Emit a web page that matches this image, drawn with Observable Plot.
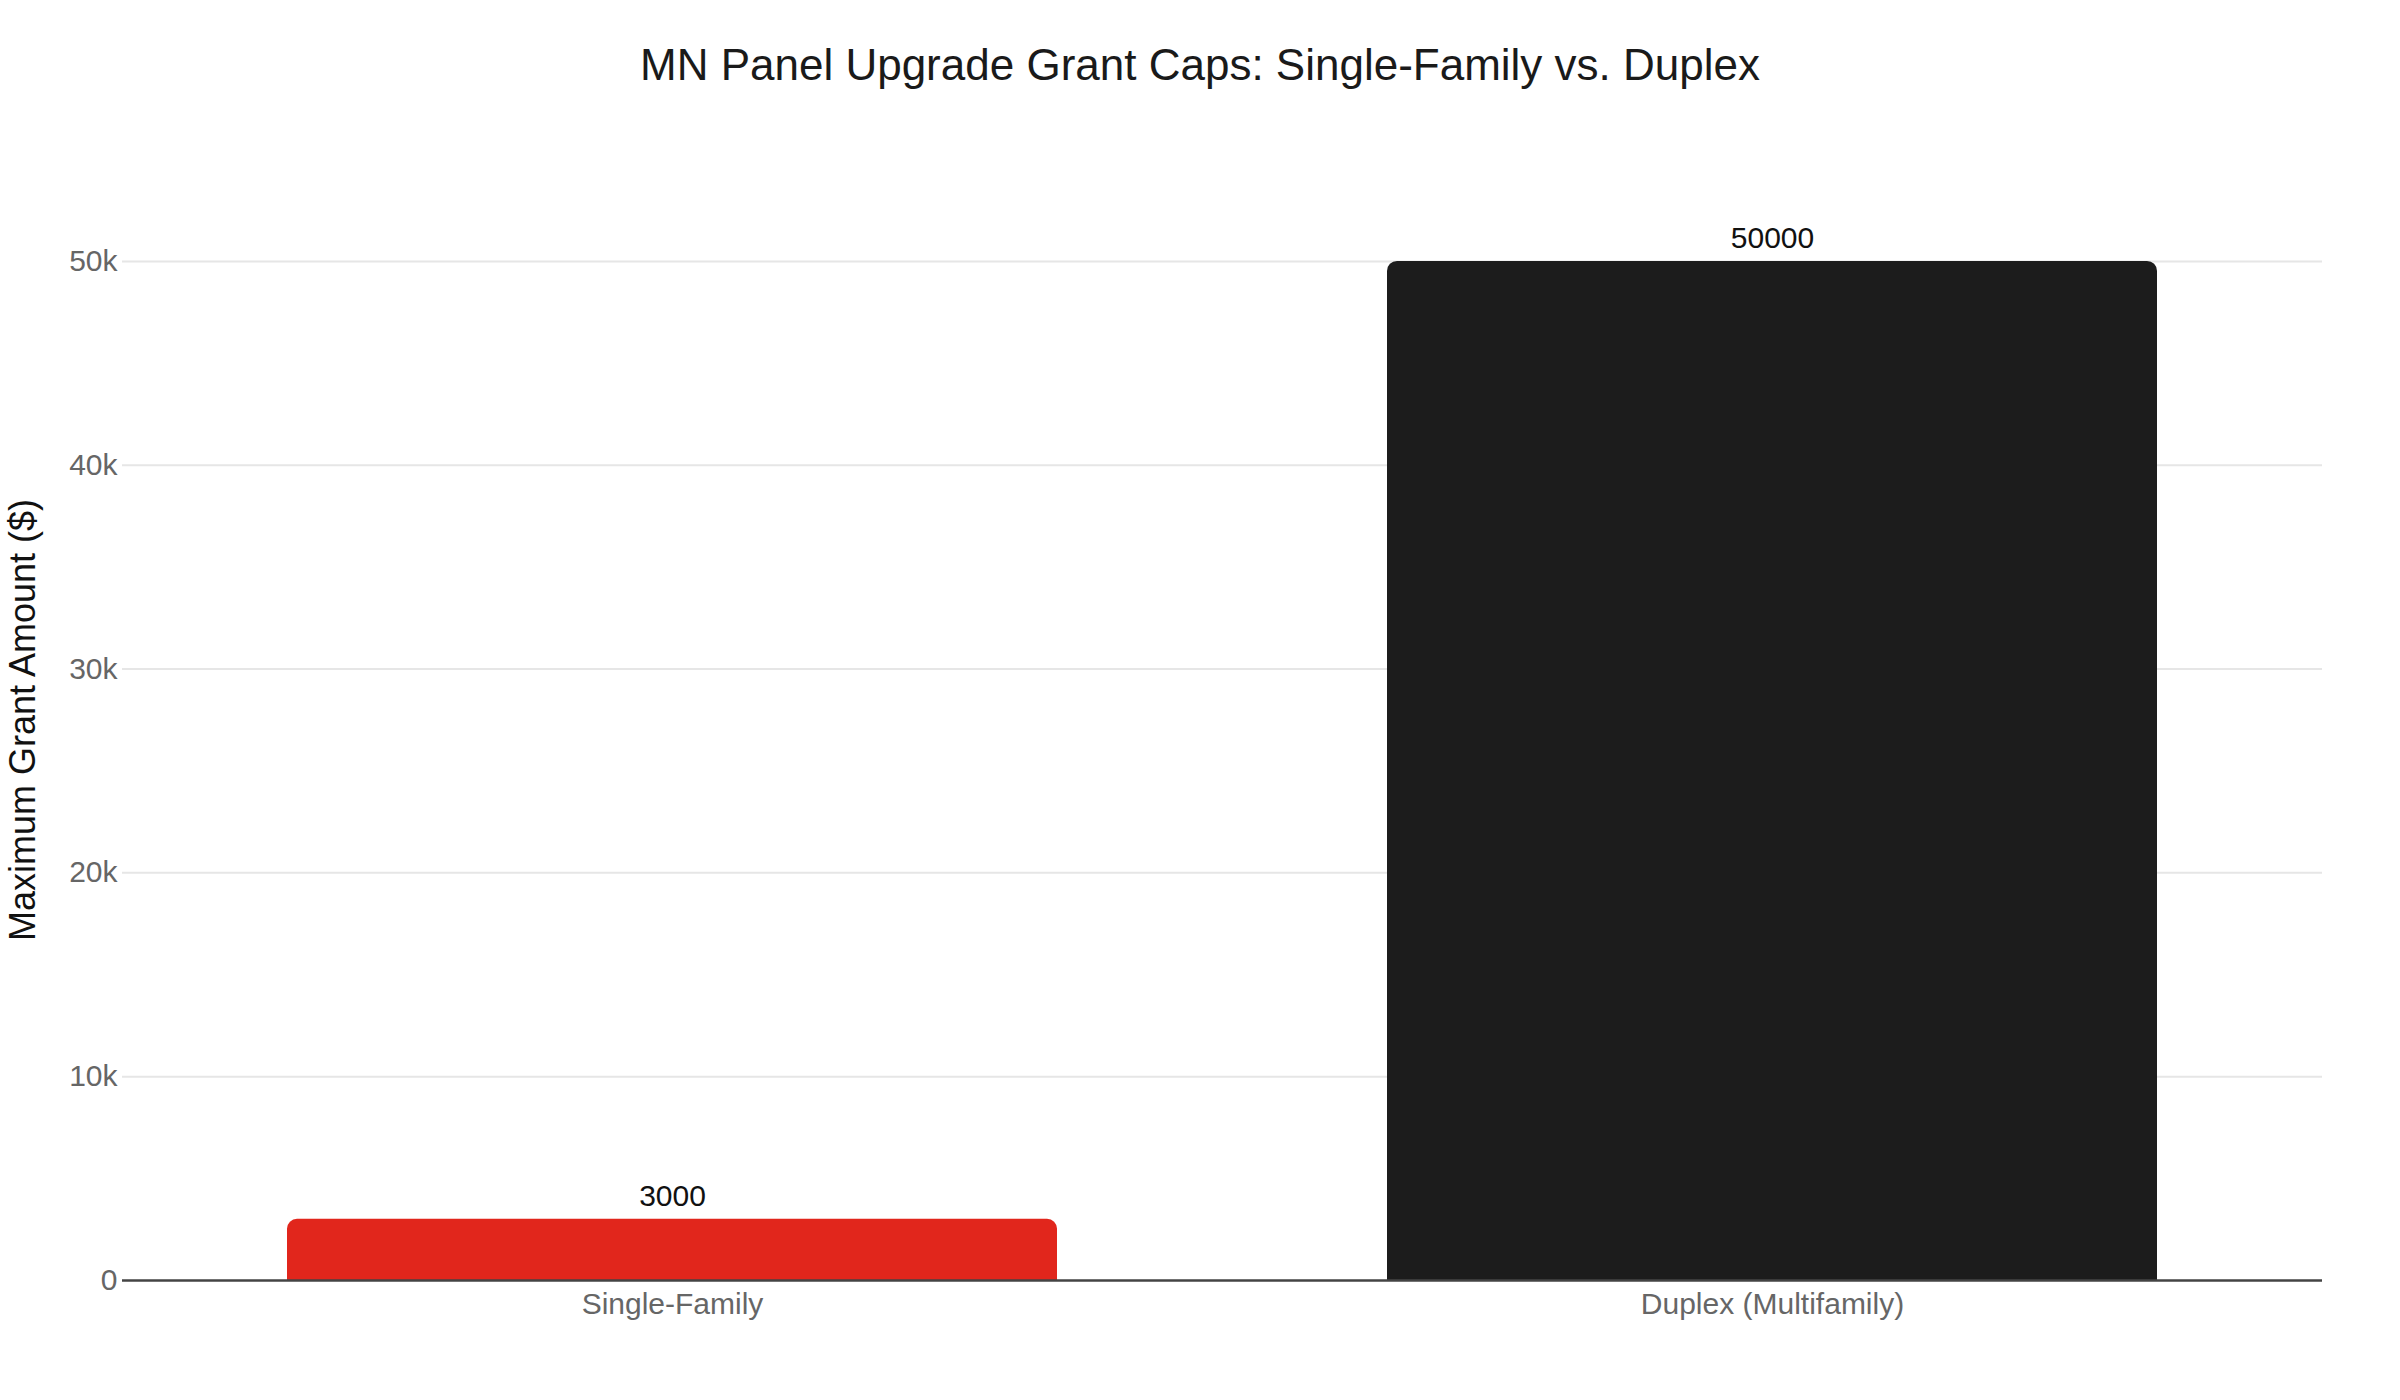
<!DOCTYPE html>
<html>
<head>
<meta charset="utf-8">
<script src="https://cdn.jsdelivr.net/npm/d3@7"></script>
<script src="https://cdn.jsdelivr.net/npm/@observablehq/plot@0.6"></script>
<style>
  html, body { margin: 0; padding: 0; background: #fff; }
  body { width: 2400px; height: 1400px; overflow: hidden; font-family: "Liberation Sans", Arial, Helvetica, sans-serif; }
  #title { height: 120px; box-sizing: border-box; padding-top: 39px; text-align: center; font-size: 44px; line-height: 52px; color: #1a1a1a; }
  #chart svg { display: block; }
</style>
</head>
<body>
<div id="title">MN Panel Upgrade Grant Caps: Single-Family vs. Duplex</div>
<div id="chart"></div>
<script>
const categories = ["Single-Family", "Duplex (Multifamily)"];
const amounts = [3000, 50000];
const barColors = ["#e1261c", "#1c1c1c"];
const yTicks = [0, 10000, 20000, 30000, 40000, 50000];
const yTickLabels = ["0", "10k", "20k", "30k", "40k", "50k"];
const yLabel = "Maximum Grant Amount ($)";

const data = categories.map((c, i) => ({category: c, amount: amounts[i]}));

const font = "'Liberation Sans', Arial, Helvetica, sans-serif";

const chart = Plot.plot({
  width: 2400,
  height: 1280,
  marginLeft: 122,
  marginRight: 78,
  marginTop: 39,
  marginBottom: 120,
  style: {fontFamily: font, background: "#fff", overflow: "visible"},
  x: {domain: categories, paddingInner: 0.3, paddingOuter: 0.15, label: null},
  y: {domain: [0, 55000], label: null},
  color: {domain: categories, range: barColors},
  marks: [
    Plot.gridY(yTicks.filter(d => d > 0), {stroke: "#e6e6e6", strokeWidth: 2, strokeOpacity: 1}),
    Plot.barY(data, {x: "category", y: "amount", fill: "category", rx: 10, insetBottom: -14, clip: true}),
    Plot.ruleY([0], {stroke: "#444", strokeWidth: 2.5}),
    Plot.axisY({
      ticks: yTicks,
      tickFormat: d => yTickLabels[yTicks.indexOf(d)],
      tickSize: 0,
      tickPadding: 5,
      fontSize: 30,
      fill: "#666",
      label: null
    }),
    Plot.axisX({
      tickSize: 0,
      tickPadding: 12,
      fontSize: 30,
      fill: "#666",
      label: null
    }),
    Plot.text([yLabel], {frameAnchor: "left", textAnchor: "middle", dx: -99, rotate: -90, fontSize: 36, fill: "#111"}),
    Plot.text(data, {x: "category", y: "amount", text: d => String(d.amount), dy: -23, fontSize: 30, fill: "#111"})
  ]
});
document.getElementById("chart").appendChild(chart);
</script>
</body>
</html>
